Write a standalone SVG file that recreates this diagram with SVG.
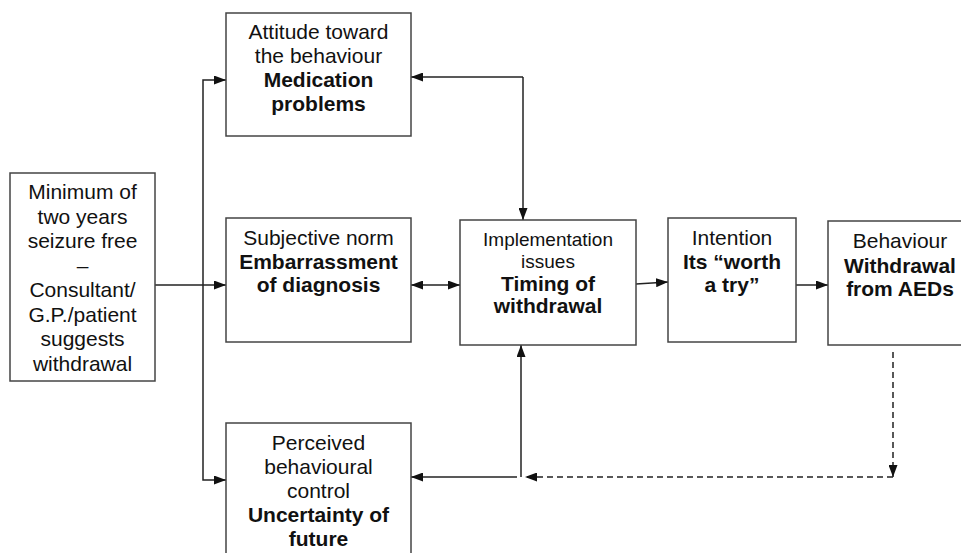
<svg xmlns="http://www.w3.org/2000/svg" width="961" height="553" viewBox="0 0 961 553">
<style>
.box{fill:#fff;stroke:#444;stroke-width:1.5}
text{font-family:"Liberation Sans",Arial,sans-serif;font-size:21px;fill:#111;text-anchor:middle}
.b{font-weight:bold}
.s{font-size:19px}
.ln{fill:none;stroke:#222;stroke-width:1.5}
.dash{stroke-dasharray:6 4}
</style>
<defs>
<marker id="ah" viewBox="0 0 12 9" refX="12" refY="4.5" markerWidth="12" markerHeight="9" markerUnits="userSpaceOnUse" orient="auto-start-reverse">
<path d="M0,0 L12,4.5 L0,9 z" fill="#111"/>
</marker>
</defs>
<rect width="961" height="553" fill="#fff"/>
<g id="connectors">
<line class="ln" x1="155" y1="285" x2="226" y2="285" marker-end="url(#ah)"/>
<path class="ln" d="M203,285 V80 H226" marker-end="url(#ah)"/>
<path class="ln" d="M203,285 V480 H226" marker-end="url(#ah)"/>
<line class="ln" x1="411" y1="285" x2="460" y2="285" marker-start="url(#ah)" marker-end="url(#ah)"/>
<path class="ln" d="M523,77 H411" marker-end="url(#ah)"/>
<path class="ln" d="M523,77 V220" marker-end="url(#ah)"/>
<line class="ln" x1="636" y1="284" x2="668" y2="282" marker-end="url(#ah)"/>
<line class="ln" x1="796" y1="285" x2="828" y2="285" marker-end="url(#ah)"/>
<path class="ln dash" d="M893,352 V477" marker-end="url(#ah)"/>
<path class="ln dash" d="M893,477 H525" marker-end="url(#ah)"/>
<path class="ln" d="M521,477 V345" marker-end="url(#ah)"/>
<path class="ln" d="M517,477 H411" marker-end="url(#ah)"/>
</g>
<g id="start">
<rect class="box" x="10" y="173" width="145" height="208"/>
<text x="82.5" y="199">Minimum of</text>
<text x="82.5" y="223.5">two years</text>
<text x="82.5" y="248">seizure free</text>
<text x="82.5" y="272.5">–</text>
<text x="82.5" y="297">Consultant/</text>
<text x="82.5" y="321.5">G.P./patient</text>
<text x="82.5" y="346">suggests</text>
<text x="82.5" y="370.5">withdrawal</text>
</g>
<g id="attitude">
<rect class="box" x="226" y="13" width="185" height="123"/>
<text x="318.5" y="39">Attitude toward</text>
<text x="318.5" y="63">the behaviour</text>
<text class="b" x="318.5" y="87">Medication</text>
<text class="b" x="318.5" y="111">problems</text>
</g>
<g id="subjective">
<rect class="box" x="226" y="218" width="185" height="124"/>
<text x="318.5" y="245">Subjective norm</text>
<text class="b" x="318.5" y="268.5">Embarrassment</text>
<text class="b" x="318.5" y="292">of diagnosis</text>
</g>
<g id="perceived">
<rect class="box" x="226" y="423" width="185" height="140"/>
<text x="318.5" y="450">Perceived</text>
<text x="318.5" y="474">behavioural</text>
<text x="318.5" y="498">control</text>
<text class="b" x="318.5" y="522">Uncertainty of</text>
<text class="b" x="318.5" y="546">future</text>
</g>
<g id="implementation">
<rect class="box" x="460" y="220" width="176" height="125"/>
<text class="s" x="548" y="246">Implementation</text>
<text class="s" x="548" y="268">issues</text>
<text class="b" x="548" y="290.5">Timing of</text>
<text class="b" x="548" y="313">withdrawal</text>
</g>
<g id="intention">
<rect class="box" x="668" y="218" width="128" height="124"/>
<text x="732" y="245">Intention</text>
<text class="b" x="732" y="268.5">Its “worth</text>
<text class="b" x="732" y="292">a try”</text>
</g>
<g id="behaviour">
<rect class="box" x="828" y="221" width="145" height="124"/>
<text x="900" y="248">Behaviour</text>
<text class="b" x="900" y="272.5">Withdrawal</text>
<text class="b" x="900" y="295.5">from AEDs</text>
</g>
</svg>
